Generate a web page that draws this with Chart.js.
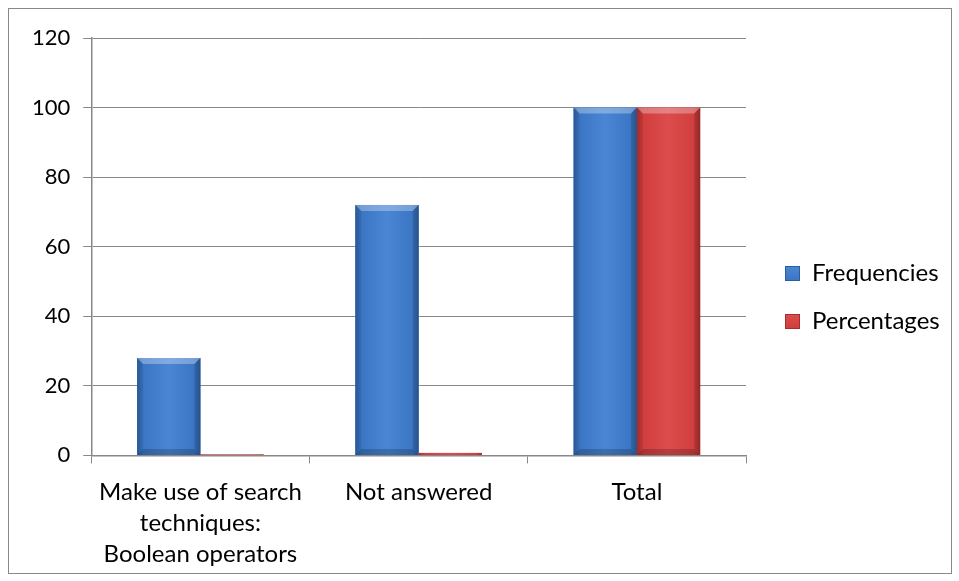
<!DOCTYPE html>
<html>
<head>
<meta charset="utf-8">
<script src="https://cdn.jsdelivr.net/npm/chart.js@4.4.0/dist/chart.umd.min.js"></script>
<style>
  body { margin: 0; background: #fff; }
  #wrap { position: absolute; left: 8px; top: 8px; width: 942px; height: 564px; border: 1px solid #888; }
  #legend { position: absolute; left: 785px; top: 255px; font: 24px Lato, sans-serif; color: #000; }
  #legend div { height: 48px; line-height: 34px; white-space: nowrap; }
  #legend span.box { display: inline-block; width: 13px; height: 13px; margin-right: 12px; vertical-align: 0px; border: 1px solid; }
</style>
</head>
<body>
<div id="wrap"><canvas id="myChart"></canvas></div>
<div id="legend"></div>
<script>
// chart data
var categories = [["Make use of search", "techniques:", "Boolean operators"], "Not answered", "Total"];
var seriesNames = ["Frequencies", "Percentages"];
var frequencies = [28, 72, 100];
var percentages = [0.28, 0.72, 100];
var yTicks = [0, 20, 40, 60, 80, 100, 120];

var blue = { light: "#4a86d4", mid: "#3b76c4", dark: "#2b5d9e" };
var red = { light: "#dd4c4c", mid: "#d03e3e", dark: "#a82e2e" };

// repaint bars with a gradient + bevel so they look like the excel ones
var bevel = {
  id: "bevel",
  afterDatasetsDraw: function (chart) {
    var ctx = chart.ctx;
    chart.data.datasets.forEach(function (ds, i) {
      var meta = chart.getDatasetMeta(i);
      var c = i == 0 ? blue : red;
      meta.data.forEach(function (bar) {
        var l = bar.x - bar.width / 2, r = bar.x + bar.width / 2, t = bar.y, b = bar.base;
        if (!isFinite(l) || !isFinite(t)) return;
        var h = b - t;
        ctx.save();
        var g = ctx.createLinearGradient(l, 0, r, 0);
        g.addColorStop(0, c.dark);
        g.addColorStop(0.1, c.mid);
        g.addColorStop(0.5, c.light);
        g.addColorStop(0.9, c.mid);
        g.addColorStop(1, c.dark);
        ctx.fillStyle = g;
        ctx.fillRect(l, t, r - l, h);
        if (h < 12) { ctx.restore(); return; }
        var d = 6;
        ctx.fillStyle = "rgba(255,255,255,0.3)";
        ctx.beginPath();
        ctx.moveTo(l, t); ctx.lineTo(r, t); ctx.lineTo(r - d, t + d); ctx.lineTo(l + d, t + d);
        ctx.closePath(); ctx.fill();
        ctx.fillStyle = "rgba(0,0,0,0.12)";
        ctx.beginPath();
        ctx.moveTo(r, t); ctx.lineTo(r, b); ctx.lineTo(r - d, b - d); ctx.lineTo(r - d, t + d);
        ctx.closePath(); ctx.fill();
        ctx.fillStyle = "rgba(0,0,0,0.18)";
        ctx.beginPath();
        ctx.moveTo(l, b); ctx.lineTo(r, b); ctx.lineTo(r - d, b - d); ctx.lineTo(l + d, b - d);
        ctx.closePath(); ctx.fill();
        ctx.fillStyle = "rgba(0,0,0,0.06)";
        ctx.beginPath();
        ctx.moveTo(l, t); ctx.lineTo(l, b); ctx.lineTo(l + d, b - d); ctx.lineTo(l + d, t + d);
        ctx.closePath(); ctx.fill();
        ctx.restore();
      });
    });
  }
};

// html legend on the right
var legendEl = document.getElementById("legend");
[blue, red].forEach(function (c, i) {
  var row = document.createElement("div");
  row.innerHTML = '<span class="box" style="background:linear-gradient(' + c.light + ',' + c.mid + ');border-color:' + c.dark + '"></span>' + seriesNames[i];
  legendEl.appendChild(row);
});

Chart.defaults.font.family = "Lato, 'Open Sans', sans-serif";
Chart.defaults.font.size = 23;
Chart.defaults.color = "#000";

new Chart("myChart", {
  type: "bar",
  data: {
    labels: categories,
    datasets: [{
      label: seriesNames[0],
      data: frequencies,
      backgroundColor: blue.mid,
      borderWidth: 0
    }, {
      label: seriesNames[1],
      data: percentages,
      backgroundColor: red.mid,
      borderWidth: 0
    }]
  },
  options: {
    responsive: true,
    maintainAspectRatio: false,
    animation: false,
    layout: { padding: { left: 10, top: 29, right: 205, bottom: -10 } },
    datasets: { bar: { barPercentage: 1, categoryPercentage: 0.58 } },
    plugins: {
      legend: { display: false },
      tooltip: { enabled: false }
    },
    scales: {
      x: {
        grid: { offset: true, drawOnChartArea: false, color: "#888", tickLength: 8 },
        border: { color: "#888", width: 1.5 },
        ticks: { maxRotation: 0, padding: 13, font: { size: 24, lineHeight: 1.3 } }
      },
      y: {
        min: 0,
        max: 120,
        afterBuildTicks: function (axis) { axis.ticks = yTicks.map(function (v) { return { value: v }; }); },
        grid: { color: "#888", tickLength: 8 },
        border: { color: "#888", width: 1.5 },
        ticks: { padding: 13, font: { size: 22 } }
      }
    }
  },
  plugins: [bevel]
});
</script>
</body>
</html>
